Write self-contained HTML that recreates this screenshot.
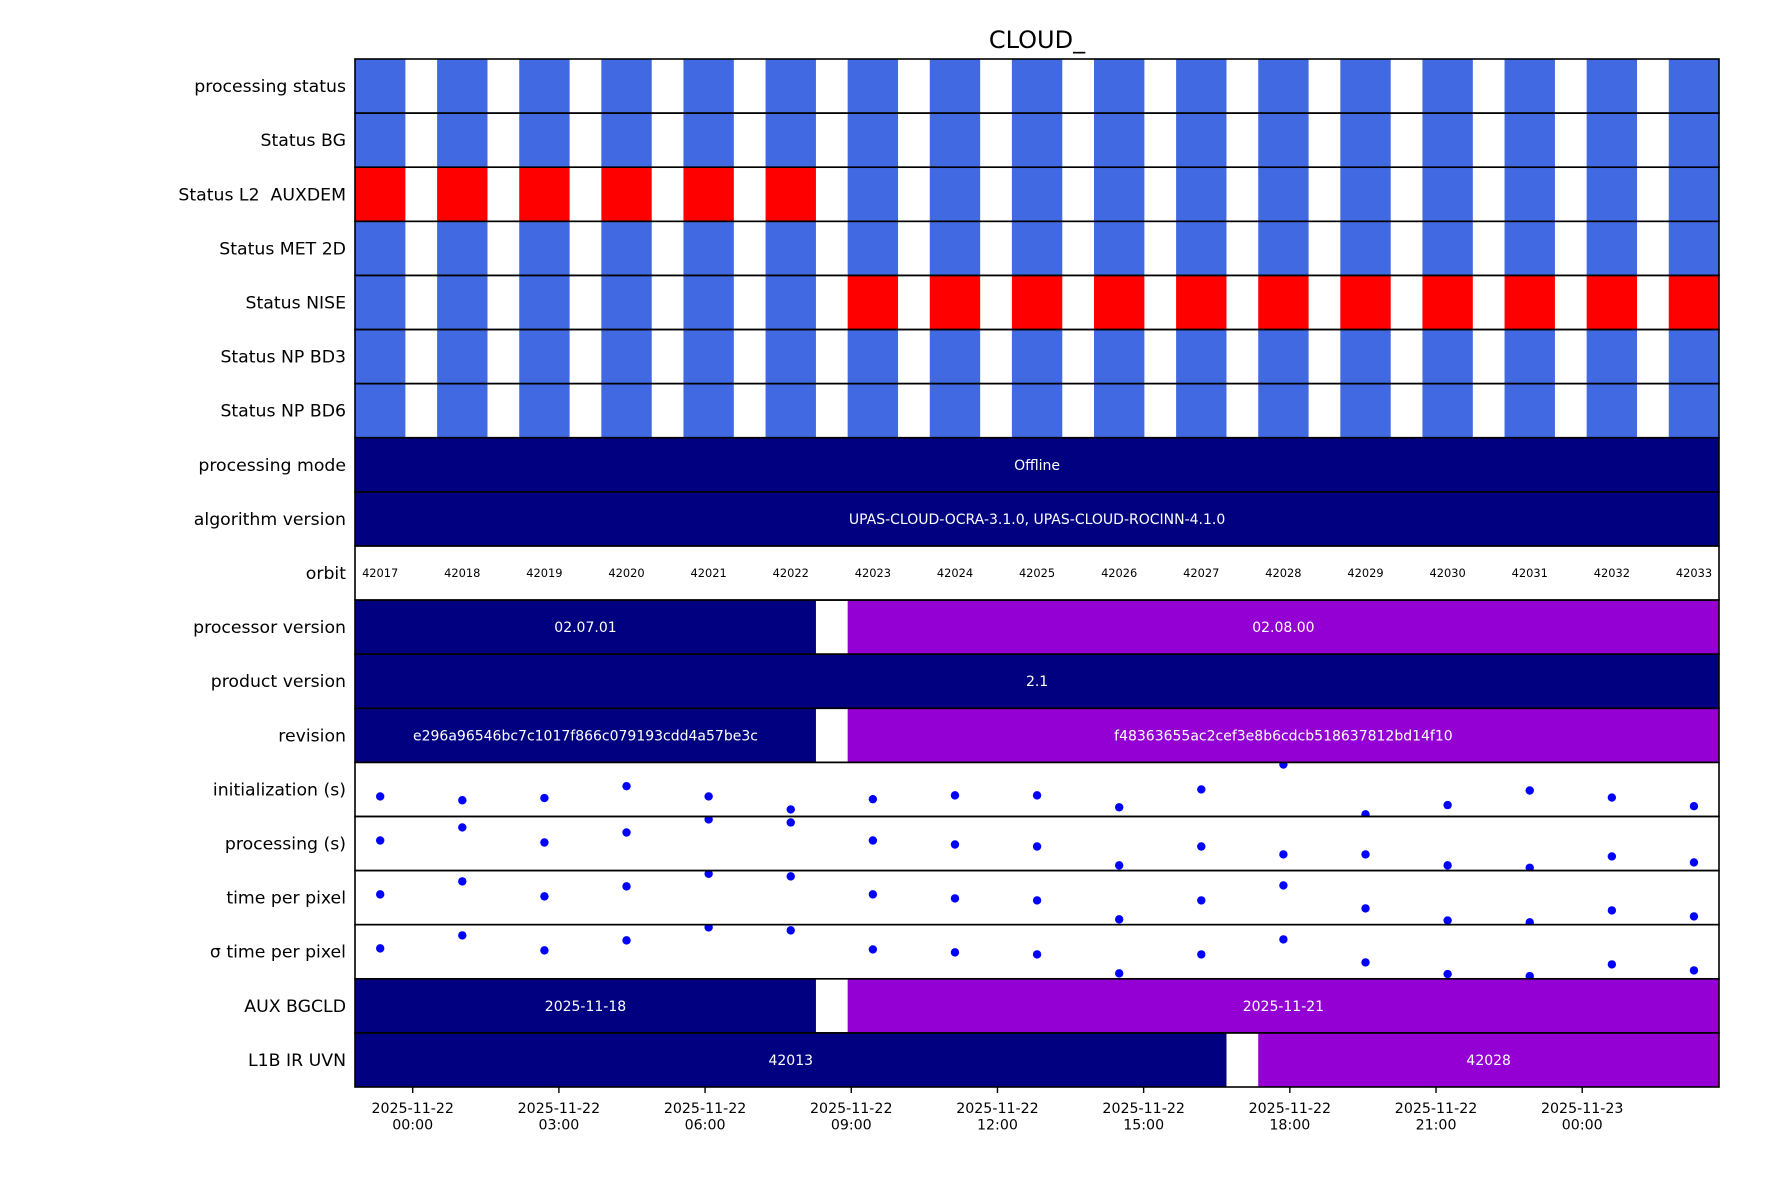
<!DOCTYPE html>
<html><head><meta charset="utf-8"><style>
html,body{margin:0;padding:0;background:#fff;}
svg{display:block;font-family:"DejaVu Sans","Liberation Sans",sans-serif;}
text{white-space:pre;}
</style></head><body>
<svg id="chart" width="1771" height="1181" viewBox="0 0 1771 1181" xmlns="http://www.w3.org/2000/svg">
<rect width="1771" height="1181" fill="#fff"/>
<text x="1037" y="48" font-size="24" text-anchor="middle" fill="#000">CLOUD_</text>
<g id="plot"></g>
</svg>
<script>
// ---- data ----
const rowLabels = ["processing status","Status BG","Status L2  AUXDEM","Status MET 2D","Status NISE","Status NP BD3","Status NP BD6","processing mode","algorithm version","orbit","processor version","product version","revision","initialization (s)","processing (s)","time per pixel","\u03c3 time per pixel","AUX BGCLD","L1B IR UVN"];
const orbits = [42017,42018,42019,42020,42021,42022,42023,42024,42025,42026,42027,42028,42029,42030,42031,42032,42033];
const granuleStartH = [-1.184,0.501,2.186,3.871,5.556,7.241,8.926,10.611,12.296,13.981,15.666,17.351,19.036,20.721,22.406,24.091,25.776];
const granuleDurH = 1.034;
const statusAUXDEM = ["r","r","r","r","r","r","b","b","b","b","b","b","b","b","b","b","b"];
const statusNISE = ["b","b","b","b","b","b","r","r","r","r","r","r","r","r","r","r","r"];
const processorVersion = ["02.07.01","02.07.01","02.07.01","02.07.01","02.07.01","02.07.01","02.08.00","02.08.00","02.08.00","02.08.00","02.08.00","02.08.00","02.08.00","02.08.00","02.08.00","02.08.00","02.08.00"];
const revision = ["e296a96546bc7c1017f866c079193cdd4a57be3c","e296a96546bc7c1017f866c079193cdd4a57be3c","e296a96546bc7c1017f866c079193cdd4a57be3c","e296a96546bc7c1017f866c079193cdd4a57be3c","e296a96546bc7c1017f866c079193cdd4a57be3c","e296a96546bc7c1017f866c079193cdd4a57be3c","f48363655ac2cef3e8b6cdcb518637812bd14f10","f48363655ac2cef3e8b6cdcb518637812bd14f10","f48363655ac2cef3e8b6cdcb518637812bd14f10","f48363655ac2cef3e8b6cdcb518637812bd14f10","f48363655ac2cef3e8b6cdcb518637812bd14f10","f48363655ac2cef3e8b6cdcb518637812bd14f10","f48363655ac2cef3e8b6cdcb518637812bd14f10","f48363655ac2cef3e8b6cdcb518637812bd14f10","f48363655ac2cef3e8b6cdcb518637812bd14f10","f48363655ac2cef3e8b6cdcb518637812bd14f10","f48363655ac2cef3e8b6cdcb518637812bd14f10"];
const auxBgcld = ["2025-11-18","2025-11-18","2025-11-18","2025-11-18","2025-11-18","2025-11-18","2025-11-21","2025-11-21","2025-11-21","2025-11-21","2025-11-21","2025-11-21","2025-11-21","2025-11-21","2025-11-21","2025-11-21","2025-11-21"];
const l1bIrUvn = ["42013","42013","42013","42013","42013","42013","42013","42013","42013","42013","42013","42028","42028","42028","42028","42028","42028"];
const initValues = [33.7,33.0,33.4,35.6,33.7,31.3,33.2,33.9,33.9,31.7,35.0,39.6,30.4,32.1,34.8,33.5,31.9];
const initRange = [30,40];
const procValues = [655.6,679.7,651.9,670.4,694.5,688.9,655.6,648.2,644.5,609.6,644.5,629.9,629.9,609.6,605.2,626.1,615.0];
const procRange = [600,700];
const tppValues = [2.560,2.800,2.523,2.708,2.941,2.893,2.560,2.486,2.449,2.098,2.449,2.726,2.301,2.079,2.043,2.264,2.153];
const tppRange = [2,3];
const sigmaValues = [0.562,0.802,0.525,0.710,0.950,0.895,0.543,0.488,0.451,0.100,0.451,0.728,0.303,0.087,0.050,0.266,0.155];
const sigmaRange = [0,1];
const tickHours = [0,3,6,9,12,15,18,21,24];
const tickLabels = [["2025-11-22","00:00"],["2025-11-22","03:00"],["2025-11-22","06:00"],["2025-11-22","09:00"],["2025-11-22","12:00"],["2025-11-22","15:00"],["2025-11-22","18:00"],["2025-11-22","21:00"],["2025-11-23","00:00"]];

// ---- layout ----
const NS="http://www.w3.org/2000/svg";
const L=355, R=1719, T=59, B=1087, RH=(B-T)/rowLabels.length;
const x0=412.7, pxPerH=48.73;
const xs = h => x0 + h*pxPerH;
const rowTop = i => T + i*RH;
const g=document.getElementById('plot');
function mk(tag, attrs, parent){const e=document.createElementNS(NS,tag);for(const k in attrs)e.setAttribute(k,attrs[k]);(parent||g).appendChild(e);return e;}
const colorMap={b:"#4169e1",r:"#ff0000"};

for(let r=0;r<7;r++){
  for(let i=0;i<orbits.length;i++){
    let c="b"; if(r===2)c=statusAUXDEM[i]; if(r===4)c=statusNISE[i];
    const e=mk('rect',{x:xs(granuleStartH[i]),y:rowTop(r),width:granuleDurH*pxPerH,height:RH,fill:colorMap[c]});
    
    
  }
}
const bandColors=["#000080","#9400d3"];
function bands(row, vals, name){
  let start=0, ci=0;
  for(let i=1;i<=vals.length;i++){
    if(i===vals.length||vals[i]!==vals[start]){
      const xa=xs(granuleStartH[start]), xb=xs(granuleStartH[i-1]+granuleDurH);
      const e=mk('rect',{x:xa,y:rowTop(row),width:xb-xa,height:RH,fill:bandColors[ci%2]});
      
      
      const t=mk('text',{x:(xa+xb)/2,y:rowTop(row)+RH/2+5,'font-size':14,'text-anchor':'middle',fill:'#fff'});
      t.textContent=vals[start];
      
      
      start=i; ci++;
    }
  }
}
const full = v => orbits.map(()=>v);
bands(7, full("Offline"), "processing-mode");
bands(8, full("UPAS-CLOUD-OCRA-3.1.0, UPAS-CLOUD-ROCINN-4.1.0"), "algorithm-version");
bands(10, processorVersion, "processor-version");
bands(11, full("2.1"), "product-version");
bands(12, revision, "revision");
bands(17, auxBgcld, "aux-bgcld");
bands(18, l1bIrUvn, "l1b-ir-uvn");
for(let i=0;i<orbits.length;i++){
  const t=mk('text',{x:xs(granuleStartH[i]+granuleDurH/2),y:rowTop(9)+RH/2+4,'font-size':11.4,'text-anchor':'middle',fill:'#000'});
  t.textContent=orbits[i];
  
  
}
const clip=mk('defs',{});
function scatter(row, vals, range, name){
  const cp=mk('clipPath',{id:'clip'+row},clip);
  mk('rect',{x:L,y:rowTop(row),width:R-L,height:RH},cp);
  const gg=mk('g',{'clip-path':'url(#clip'+row+')'});
  for(let i=0;i<vals.length;i++){
    const y=rowTop(row)+RH - (vals[i]-range[0])/(range[1]-range[0])*RH;
    const c=mk('circle',{cx:xs(granuleStartH[i]+granuleDurH/2),cy:y,r:4.2,fill:'#0000ff'},gg);
    
    
  }
}
scatter(13, initValues, initRange, "initialization");
scatter(14, procValues, procRange, "processing");
scatter(15, tppValues, tppRange, "time-per-pixel");
scatter(16, sigmaValues, sigmaRange, "sigma-time-per-pixel");
for(let r=0;r<rowLabels.length;r++){
  const e=mk('rect',{x:L,y:rowTop(r),width:R-L,height:RH,fill:'none',stroke:'#000','stroke-width':1.6});
  
  
  const t=mk('text',{x:346,y:rowTop(r)+RH/2+6,'font-size':17.3,'text-anchor':'end',fill:'#000'});
  t.textContent=rowLabels[r];
  
  
}
for(let k=0;k<tickHours.length;k++){
  const x=xs(tickHours[k]);
  const l=mk('line',{x1:x,x2:x,y1:B,y2:B+6,stroke:'#000','stroke-width':1.4});
  
  
  const t=mk('text',{x:x,y:B+26,'font-size':14.2,'text-anchor':'middle',fill:'#000'});
  
  
  const s1=mk('tspan',{x:x,dy:0},t); s1.textContent=tickLabels[k][0];
  const s2=mk('tspan',{x:x,dy:16.5},t); s2.textContent=tickLabels[k][1];
}
</script>
</body></html>
